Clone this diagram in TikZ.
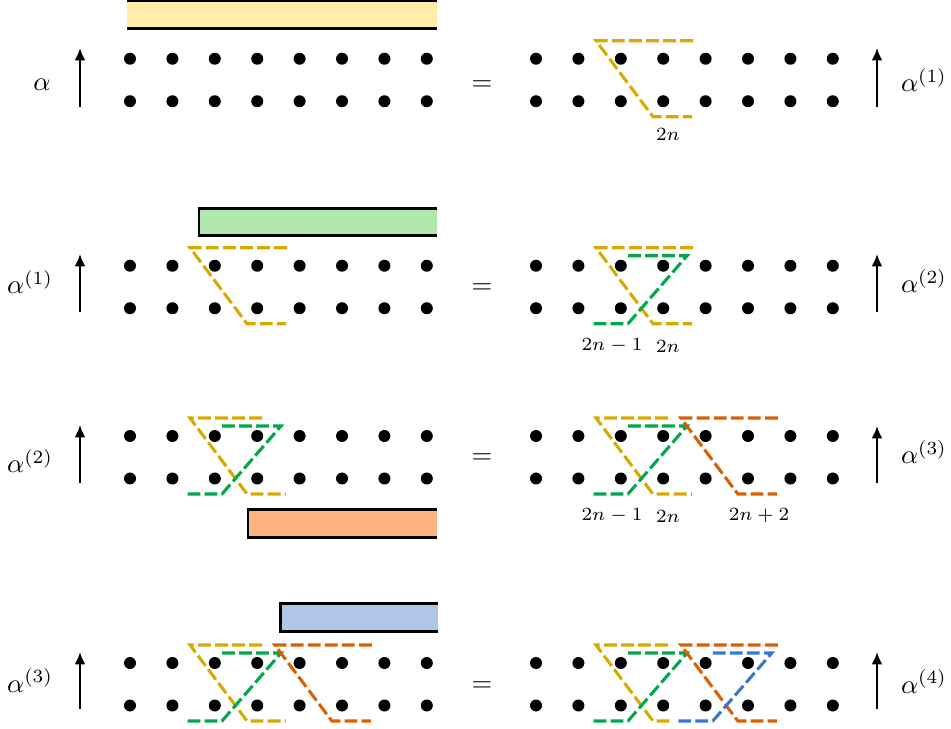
\documentclass[tikz,border=0pt]{standalone}
\usetikzlibrary{arrows.meta}
\definecolor{cyel}{RGB}{214,170,0}
\definecolor{cgrn}{RGB}{0,168,72}
\definecolor{corg}{RGB}{217,95,2}
\definecolor{cblu}{RGB}{58,118,208}
\definecolor{fyel}{RGB}{255,238,170}
\definecolor{fgrn}{RGB}{176,232,174}
\definecolor{forg}{RGB}{255,179,128}
\definecolor{fblu}{RGB}{176,198,232}
\newcommand\dotrows{\foreach \i in {0,...,7}{\fill (\i*42.4,0) circle (6); \fill (\i*42.4,42.5) circle (6);}}
\newcommand\yelfull{\draw[dsh,cyel] (157,-18) -- (60,-18) -- (117,58) -- (156,58);}
\newcommand\yelshort{\draw[dsh,cyel] (132,-18) -- (60,-18) -- (117,58) -- (156,58);}
\newcommand\yelshortb{\draw[dsh,cyel] (132,-18) -- (60,-18) -- (117,58) -- (137,58);}
\newcommand\grnpath{\draw[dsh,cgrn] (92,-10) -- (151,-10) -- (92,58) -- (56,58);}
\newcommand\orgpath{\draw[dsh,corg] (241.8,-18) -- (144.8,-18) -- (201.8,58) -- (240.8,58);}
\newcommand\blupath{\draw[dsh,cblu] (176.8,-10) -- (235.8,-10) -- (176.8,58) -- (140.8,58);}
\begin{document}
\begin{tikzpicture}[x=0.375pt,y=-0.375pt,
  dsh/.style={line width=1.15pt,dash pattern=on 4.8pt off 1.6pt},
  uparr/.style={line width=0.8pt,-{Latex[length=4.6pt,width=4pt]}},
  rectline/.style={line width=1.1pt},
  lbl/.style={inner sep=0pt,font=\scriptsize},
  alab/.style={inner sep=0pt}]
\useasboundingbox (0,0) rectangle (951,729);
% ---------- rectangles ----------
\fill[fyel] (127,1) rectangle (437,28.5);
\draw[rectline] (127,1) -- (437,1);
\draw[rectline] (127,28.5) -- (437,28.5);
\fill[fgrn] (199,208.5) rectangle (437,235.5);
\draw[rectline] (437,208.5) -- (199,208.5) -- (199,235.5) -- (437,235.5);
\fill[forg] (248,509.5) rectangle (437,537.5);
\draw[rectline] (437,509.5) -- (248,509.5) -- (248,537.5) -- (437,537.5);
\fill[fblu] (280.5,603.5) rectangle (438,631.5);
\draw[rectline] (438,603.5) -- (280.5,603.5) -- (280.5,631.5) -- (438,631.5);
% ---------- row 1 ----------
\begin{scope}[shift={(130,58.75)}]\dotrows\end{scope}
\begin{scope}[shift={(536,58.75)}]\dotrows\yelfull
  \node[lbl] (l1a) at (132,134-58.75) {$2n$};
\end{scope}
% ---------- row 2 ----------
\begin{scope}[shift={(130,265.75)}]\dotrows\yelfull\end{scope}
\begin{scope}[shift={(536,265.75)}]\dotrows\yelfull\grnpath
  \node[lbl] (l2a) at (76,346-265.75) {$2n-1$};
  \node[lbl] (l2b) at (132,346-265.75) {$2n$};
\end{scope}
% ---------- row 3 ----------
\begin{scope}[shift={(130,436)}]\dotrows\yelshort\grnpath\end{scope}
\begin{scope}[shift={(536,436)}]\dotrows\yelshort\grnpath\orgpath
  \node[lbl] (l3a) at (76,516-436) {$2n-1$};
  \node[lbl] (l3b) at (132,516-436) {$2n$};
  \node[lbl] (l3c) at (223,516-436) {$2n+2$};
\end{scope}
% ---------- row 4 ----------
\begin{scope}[shift={(130,663)}]\dotrows\yelshort\grnpath\orgpath\end{scope}
\begin{scope}[shift={(536,663)}]\dotrows\yelshortb\grnpath\orgpath\blupath\end{scope}
% ---------- arrows ----------
\coordinate (a1s) at (80,107); \coordinate (a1e) at (80,48);
\coordinate (b1s) at (877,107); \coordinate (b1e) at (877,48);
\coordinate (a2s) at (80,312); \coordinate (a2e) at (80,254);
\coordinate (b2s) at (877,312); \coordinate (b2e) at (877,254);
\coordinate (a3s) at (80,483); \coordinate (a3e) at (80,425);
\coordinate (b3s) at (877,483); \coordinate (b3e) at (877,426);
\coordinate (a4s) at (80,709); \coordinate (a4e) at (80,652);
\coordinate (b4s) at (877,709); \coordinate (b4e) at (877,652);
\draw[uparr] (a1s) -- (a1e); \draw[uparr] (b1s) -- (b1e);
\draw[uparr] (a2s) -- (a2e); \draw[uparr] (b2s) -- (b2e);
\draw[uparr] (a3s) -- (a3e); \draw[uparr] (b3s) -- (b3e);
\draw[uparr] (a4s) -- (a4e); \draw[uparr] (b4s) -- (b4e);
% ---------- alpha labels ----------
\node[alab,anchor=base east] (L1) at (51,91) {$\alpha$};
\node[alab,anchor=base west] (R1) at (900.5,92) {$\alpha^{(1)}$};
\node[alab,anchor=base east] (L2) at (53.5,294) {$\alpha^{(1)}$};
\node[alab,anchor=base west] (R2) at (900.5,293) {$\alpha^{(2)}$};
\node[alab,anchor=base east] (L3) at (53.5,473) {$\alpha^{(2)}$};
\node[alab,anchor=base west] (R3) at (900.5,464) {$\alpha^{(3)}$};
\node[alab,anchor=base east] (L4) at (53.5,692) {$\alpha^{(3)}$};
\node[alab,anchor=base west] (R4) at (900.5,693) {$\alpha^{(4)}$};
% ---------- equal signs ----------
\node[alab,anchor=base] (E1) at (482,90.5) {$=$};
\node[alab,anchor=base] (E2) at (482,293.5) {$=$};
\node[alab,anchor=base] (E3) at (482,464) {$=$};
\node[alab,anchor=base] (E4) at (482,691) {$=$};
\end{tikzpicture}
\end{document}
